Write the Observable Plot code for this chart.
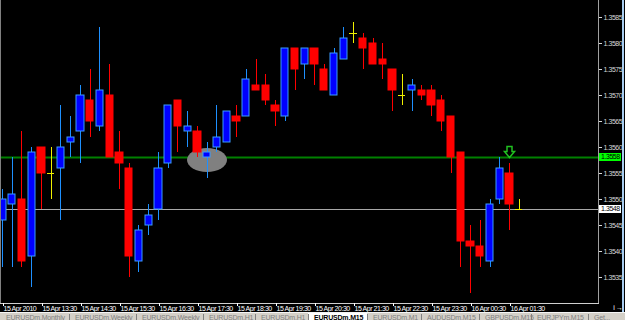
<!DOCTYPE html>
<html><head><meta charset="utf-8">
<script src="https://cdn.jsdelivr.net/npm/d3@7"></script>
<script src="https://cdn.jsdelivr.net/npm/@observablehq/plot@0.6"></script>
<style>
html,body{margin:0;padding:0;background:#000;}
#wrap{position:relative;width:625px;height:320px;overflow:hidden;background:#000;}
#chart svg{display:block;}
#chart svg text{letter-spacing:-0.45px;}
#edge{position:absolute;left:622px;top:0;width:2px;height:313px;background:#a9cdf0;}
#tabs{position:absolute;left:0;top:312px;width:625px;height:8px;background:#d4d0c8;border-top:1px solid #f4f4f4;overflow:hidden;font:7px "Liberation Sans",sans-serif;color:#808080;letter-spacing:-0.2px;}
.tab{position:absolute;top:1px;white-space:nowrap;}
.sep{position:absolute;top:1px;width:1px;height:8px;background:#808080;}
.active{position:absolute;top:-1px;height:9px;background:#fff;}
</style></head>
<body>
<div id="wrap"><div id="chart"></div><div id="edge"></div><div id="tabs"></div></div>
<script>
// EURUSDm M15, 15 Apr 2010 12:30 onward
const open  = [1.3546,1.3549,1.3550,1.3539,1.3560,1.3555,1.3556,1.3561,1.3563,1.3569,1.3564,1.3570,1.3559,1.3556,1.3538,1.3545,1.3548,1.3557,1.3569,1.3563,1.3563,1.3558,1.3560,1.3561,1.3566,1.3566,1.3572,1.3572,1.3568,1.3566,1.3579,1.3576,1.3579,1.3575,1.3570,1.3577,1.3582,1.3581,1.3580,1.3577,1.3575,1.3570,1.3571,1.3571,1.3571,1.3569,1.3566,1.3559,1.3542,1.3541,1.3538,1.3550,1.3555,1.3548];
const high  = [1.3552,1.3558,1.3563,1.3560,1.3560,1.3560,1.3568,1.3566,1.3572,1.3575,1.3583,1.3576,1.3563,1.3557,1.3545,1.3549,1.3559,1.3568,1.3569,1.3567,1.3564,1.3561,1.3568,1.3567,1.3568,1.3575,1.3577,1.3574,1.3569,1.3579,1.3579,1.3579,1.3579,1.3576,1.3579,1.3583,1.3584,1.3582,1.3581,1.3580,1.3575,1.3574,1.3573,1.3572,1.3572,1.3570,1.3566,1.3559,1.3545,1.3546,1.3550,1.3558,1.3557,1.3550];
const low   = [1.3537,1.3537,1.3537,1.3533,1.3548,1.3550,1.3546,1.3558,1.3557,1.3562,1.3563,1.3558,1.3552,1.3535,1.3536,1.3543,1.3546,1.3556,1.3559,1.3560,1.3558,1.3554,1.3559,1.3561,1.3562,1.3566,1.3571,1.3568,1.3564,1.3565,1.3571,1.3573,1.3572,1.3571,1.3570,1.3577,1.3580,1.3575,1.3576,1.3573,1.3567,1.3568,1.3567,1.3569,1.3566,1.3563,1.3555,1.3537,1.3532,1.3537,1.3537,1.3549,1.3544,1.3548];
const close = [1.3550,1.3551,1.3538,1.3559,1.3555,1.3555,1.3560,1.3562,1.3570,1.3565,1.3571,1.3558,1.3557,1.3539,1.3544,1.3547,1.3556,1.3568,1.3564,1.3564,1.3559,1.3559,1.3562,1.3567,1.3565,1.3573,1.3571,1.3569,1.3567,1.3579,1.3575,1.3579,1.3576,1.3571,1.3578,1.3581,1.3582,1.3579,1.3576,1.3576,1.3571,1.3570,1.3572,1.3570,1.3568,1.3565,1.3558,1.3542,1.3541,1.3539,1.3549,1.3556,1.3549,1.3548];

const tickIdx = [0,4,8,12,16,20,24,28,32,36,40,44,48,52];
const tickLabels = ["15 Apr 2010","15 Apr 13:30","15 Apr 14:30","15 Apr 15:30","15 Apr 16:30","15 Apr 17:30","15 Apr 18:30","15 Apr 19:30","15 Apr 20:30","15 Apr 21:30","15 Apr 22:30","15 Apr 23:30","16 Apr 00:30","16 Apr 01:30"];
const priceTicks = [1.3535,1.3540,1.3545,1.3550,1.3555,1.3560,1.3565,1.3570,1.3575,1.3580,1.3585];

const levels = [{price: 1.3558, line: "#008000", box: "#00ff00", width: 2},
                {price: 1.3548, line: "#a8a8a8", box: "#ffffff", width: 1}];
const ellipseBox = {t0: 18.97, t1: 23.08, p0: 1.35552, p1: 1.35598};
const arrows = [{i: 52, price: 1.3559}];
const tabNames = ["EURUSDm,Monthly","EURUSDm,Weekly","EURUSDm,Weekly","EURUSDm,H1","EURUSDm,H1","EURUSDm,M15","EURUSDm,M1","AUDUSDm,M15","GBPUSDm,M15","EURJPYm,M15","Get..."];
const activeTab = 5;

const candles = open.map((o, i) => ({i, open: o, high: high[i], low: low[i], close: close[i]}));
const kind = d => d.close > d.open ? "up" : d.close < d.open ? "down" : "doji";
const wickColor = {up: "#1e90ff", down: "#ff0000", doji: "#f0f000"};
const bodyFill = {up: "#0000ff", down: "#ff0000"};
const bodyStroke = {up: "#3a9cff", down: "#ff0000"};
const half = 0.36;
const bodies = candles.filter(d => kind(d) !== "doji");
const dojis = candles.filter(d => kind(d) === "doji");
const labelMap = new Map(tickIdx.map((t, k) => [t, tickLabels[k]]));

const ellipseMark = (index, scales) => {
  const x0 = scales.x(ellipseBox.t0), x1 = scales.x(ellipseBox.t1);
  const y0 = scales.y(ellipseBox.p1), y1 = scales.y(ellipseBox.p0);
  return d3.create("svg:ellipse")
    .attr("cx", (x0 + x1) / 2).attr("cy", (y0 + y1) / 2)
    .attr("rx", (x1 - x0) / 2).attr("ry", (y1 - y0) / 2)
    .attr("fill", "#808080").node();
};
const levelBoxes = (index, scales, values, dims) => {
  const g = d3.create("svg:g").attr("text-anchor", "start");
  const x = dims.width - dims.marginRight + 1;
  for (const L of levels) {
    const y = scales.y(L.price);
    g.append("rect").attr("x", x).attr("y", y - 4).attr("width", 22).attr("height", 8).attr("fill", L.box);
    g.append("text").attr("x", x + 2).attr("y", y).attr("dy", "0.35em")
      .attr("fill", "#000").attr("font-size", 7).attr("font-family", "Liberation Sans")
      .text(d3.format(".4f")(L.price));
  }
  return g.node();
};
const arrowSymbol = {draw(ctx) {
  ctx.moveTo(-2.5, -6); ctx.lineTo(2.5, -6); ctx.lineTo(2.5, -1); ctx.lineTo(5, -1);
  ctx.lineTo(0, 5); ctx.lineTo(-5, -1); ctx.lineTo(-2.5, -1); ctx.closePath();
}};

const chart = Plot.plot({
  width: 625, height: 312,
  marginLeft: 0, marginRight: 27, marginTop: 0, marginBottom: 9,
  style: {background: "#000", color: "#fff", fontFamily: "Liberation Sans", fontSize: "7px"},
  x: {domain: [-0.205, 61.128], round: true, axis: null},
  y: {domain: [1.3530, 1.358827], round: true, axis: null},
  marks: [
    ...levels.map(L => Plot.ruleY([L.price], {stroke: L.line, strokeWidth: L.width})),
    ellipseMark,
    Plot.ruleX(candles, {x: "i", y1: "low", y2: "high", stroke: d => wickColor[kind(d)]}),
    Plot.rect(bodies, {x1: d => d.i - half, x2: d => d.i + half, y1: "open", y2: "close",
      fill: d => bodyFill[kind(d)], stroke: d => bodyStroke[kind(d)]}),
    Plot.ruleY(dojis, {y: "open", x1: d => d.i - half, x2: d => d.i + half, stroke: wickColor.doji}),
    Plot.dot(arrows, {x: "i", y: "price", symbol: arrowSymbol, stroke: "#20c020", fill: "#000", r: 4}),
    Plot.frame({anchor: "left", stroke: "#808080"}),
    Plot.frame({anchor: "right", stroke: "#a0a0a0"}),
    Plot.frame({anchor: "bottom", stroke: "#d0d0d0"}),
    Plot.axisY(priceTicks, {anchor: "right", tickFormat: d3.format(".4f"), tickSize: 3, tickPadding: 2,
      color: "#d8d8d8", textAnchor: "start", fontSize: 7}),
    Plot.axisX(tickIdx, {anchor: "bottom", tickFormat: d => labelMap.get(d), tickSize: 3, tickPadding: 0,
      textAnchor: "start", dx: 1, color: "#ffffff", fontSize: 7}),
    levelBoxes
  ]
});
document.getElementById("chart").append(chart);

// terminal tab bar under the chart
const seps = [69, 136, 203, 255, 308, 367, 421, 479, 531, 588];
const tabs = document.getElementById("tabs");
const starts = [0, ...seps];
tabNames.forEach((name, k) => {
  const left = starts[k];
  if (k === activeTab) {
    const a = document.createElement("div");
    a.className = "active"; a.style.left = left + "px"; a.style.width = (seps[k] - left) + "px";
    tabs.append(a);
  }
  const t = document.createElement("div");
  t.className = "tab"; t.textContent = name; t.style.left = (left + 6) + "px";
  if (k === activeTab) { t.style.color = "#000"; t.style.fontWeight = "bold"; }
  tabs.append(t);
});
seps.forEach(s => { const d = document.createElement("div"); d.className = "sep"; d.style.left = s + "px"; tabs.append(d); });
</script>
</body></html>
